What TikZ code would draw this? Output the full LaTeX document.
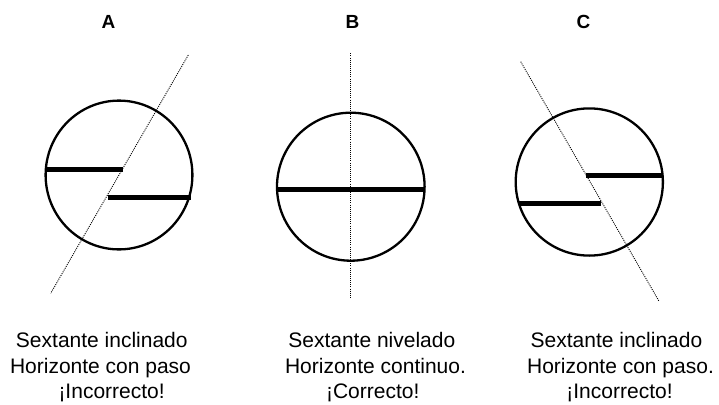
\documentclass[tikz,border=0pt]{standalone}
\usepackage{fontspec}
\setmainfont{Liberation Sans}
\begin{document}
\begin{tikzpicture}[x=1pt,y=-1pt,
  horizon/.style={line width=4.8pt,line cap=butt},
  dialline/.style={line width=2.3pt},
  axisline/.style={line width=0.9pt,dash pattern=on 1pt off 1.1pt},
  head/.style={font=\fontsize{19}{22}\selectfont\bfseries,anchor=base,inner sep=0pt},
  capline/.style={font=\fontsize{21}{25}\selectfont,anchor=base,inner sep=0pt}]
\useasboundingbox[fill=white] (0,0) rectangle (719,404);
% headings
\node[head] (hA) at (108.5,28.3) {A};
\node[head] (hB) at (352.5,28.3) {B};
\node[head] (hC) at (583.5,28.3) {C};
% circles
\draw[dialline] (119,175) ellipse [x radius=73.4, y radius=74.4];
\draw[dialline] (350.8,186.7) ellipse [x radius=73.8, y radius=74];
\draw[dialline] (589.3,182) ellipse [x radius=73.6, y radius=73.6];
% horizons
\draw[horizon] (45.6,169.3) -- (122.7,169.3);
\draw[horizon] (108.3,197.3) -- (191.3,197.3);
\draw[horizon] (277,189.3) -- (424.7,189.3);
\draw[horizon] (586,175.7) -- (663.3,175.7);
\draw[horizon] (519.3,203.3) -- (601,203.3);
% axis lines
\coordinate (a1) at (188.3,55);
\coordinate (a2) at (50.7,293.3);
\coordinate (b1) at (350.7,53.3);
\coordinate (b2) at (350.7,298.3);
\coordinate (c1) at (520.7,61.7);
\coordinate (c2) at (659.3,301.7);
\draw[axisline] (a1) -- (a2);
\draw[axisline] (b1) -- (b2);
\draw[axisline] (c1) -- (c2);
% captions
\node[capline] (a3l1) at (101.8,347.7) {Sextante inclinado};
\node[capline] (a3l2) at (100.5,373.3) {Horizonte con paso};
\node[capline] (a3l3) at (111.6,398) {¡Incorrecto!};
\node[capline] (b3l1) at (371.8,347.7) {Sextante nivelado};
\node[capline] (b3l2) at (375.5,373.3) {Horizonte continuo.};
\node[capline] (b3l3) at (372.7,398) {¡Correcto!};
\node[capline] (c3l1) at (616.5,347.7) {Sextante inclinado};
\node[capline] (c3l2) at (620.5,373.3) {Horizonte con paso.};
\node[capline] (c3l3) at (619.5,398) {¡Incorrecto!};
\end{tikzpicture}
\end{document}
